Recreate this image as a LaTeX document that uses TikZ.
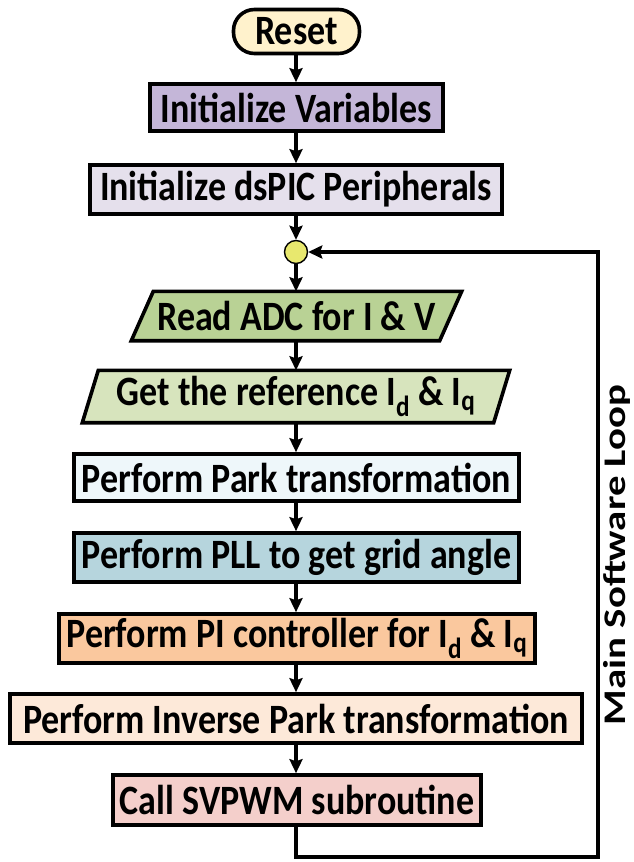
\documentclass[tikz,border=0pt]{standalone}
\usepackage{fontspec}
\setmainfont{Carlito}
\usetikzlibrary{arrows.meta,backgrounds}
\definecolor{cReset}{HTML}{FFF2CC}
\definecolor{cInitV}{HTML}{C4B6D8}
\definecolor{cDsPIC}{HTML}{E5E0EC}
\definecolor{cJunc}{HTML}{E8E86E}
\definecolor{cADC}{HTML}{B9D295}
\definecolor{cRef}{HTML}{D7E4BD}
\definecolor{cPark}{HTML}{EEF7FA}
\definecolor{cPLL}{HTML}{B6D5DD}
\definecolor{cPI}{HTML}{FAC89E}
\definecolor{cIPark}{HTML}{FDE9D9}
\definecolor{cSVPWM}{HTML}{F4CFCB}
% labels are set a little taller than the font's natural shape
\newcommand\tallText[1]{\scalebox{1}[1.16]{#1}}
\begin{document}
\begin{tikzpicture}[x=1pt,y=-1pt,
  lbl/.style={font=\bfseries\fontsize{36}{40}\selectfont, inner sep=0pt},
  stepbox/.style={lbl, draw=black, line width=3.6pt},
  slantbox/.style={lbl, draw=none},
  slantedge/.style={draw=black, line width=3.6pt, line join=miter},
  flow/.style={-{Stealth[length=14pt,width=13pt,inset=2pt]}, line width=3.2pt}]
\useasboundingbox (0,0) rectangle (634,862);

\node[stepbox, fill=cReset, rounded corners=21pt, minimum width=126pt, minimum height=44pt] (reset) at (296.5,31.5) {\tallText{Reset}};
\node[stepbox, fill=cInitV, minimum width=293pt, minimum height=47pt] (initv) at (296.5,107.5) {\tallText{Initialize Variables}};
\node[stepbox, fill=cDsPIC, minimum width=412pt, minimum height=49pt] (dspic) at (296,189.5) {\tallText{Initialize dsPIC Peripherals}};
\node[circle, draw=black, line width=1.4pt, fill=cJunc, minimum size=23pt, inner sep=0pt] (junc) at (296,252) {};
\node[slantbox, minimum width=330pt, minimum height=49pt] (adc) at (296.5,316) {\tallText{Read ADC for I \& V}};
\node[slantbox, minimum width=427pt, minimum height=52pt] (ref) at (296,396.5) {\tallText{Get the reference I\textsubscript{d} \& I\textsubscript{q}}};
\node[stepbox, fill=cPark, minimum width=445pt, minimum height=47pt] (park) at (296.5,477.5) {\tallText{Perform Park transformation}};
\node[stepbox, fill=cPLL, minimum width=445pt, minimum height=49pt] (pll) at (296.5,557.5) {\tallText{Perform PLL to get grid angle}};
\node[stepbox, fill=cPI, minimum width=476pt, minimum height=49pt] (pi) at (297,638.5) {\tallText{Perform PI controller for I\textsubscript{d} \& I\textsubscript{q}}};
\node[stepbox, fill=cIPark, minimum width=572pt, minimum height=49pt] (ipark) at (296,718.5) {\tallText{Perform Inverse Park transformation}};
\node[stepbox, fill=cSVPWM, minimum width=368pt, minimum height=50pt] (svpwm) at (297,800) {\tallText{Call SVPWM subroutine}};

% parallelogram outlines behind the two input steps
\begin{scope}[on background layer]
  \draw[slantedge, fill=cADC] ([xshift=22pt]adc.north west) -- (adc.north east)
        -- ([xshift=-22pt]adc.south east) -- (adc.south west) -- cycle;
  \draw[slantedge, fill=cRef] ([xshift=16pt]ref.north west) -- (ref.north east)
        -- ([xshift=-16pt]ref.south east) -- (ref.south west) -- cycle;
\end{scope}

% straight flow down the chart
\draw[flow] (reset.south -| junc) -- (initv.north -| junc);
\draw[flow] (initv.south -| junc) -- (dspic.north -| junc);
\draw[flow] (dspic.south -| junc) -- (junc.north);
\draw[flow] (junc.south) -- (adc.north -| junc);
\draw[flow] (adc.south -| junc) -- (ref.north -| junc);
\draw[flow] (ref.south -| junc) -- (park.north -| junc);
\draw[flow] (park.south -| junc) -- (pll.north -| junc);
\draw[flow] (pll.south -| junc) -- (pi.north -| junc);
\draw[flow] (pi.south -| junc) -- (ipark.north -| junc);
\draw[flow] (ipark.south -| junc) -- (svpwm.north -| junc);

% return path of the main loop
\coordinate (loopbot) at (598,857);
\draw[flow, line join=miter] (svpwm.south -| junc) |- (loopbot) |- (junc.east);
\node[lbl, rotate=90, anchor=base] (looplbl) at (625,555)
  {\fontsize{30}{34}\selectfont\scalebox{1.36}[1.05]{Main Software Loop}};
\end{tikzpicture}
\end{document}
